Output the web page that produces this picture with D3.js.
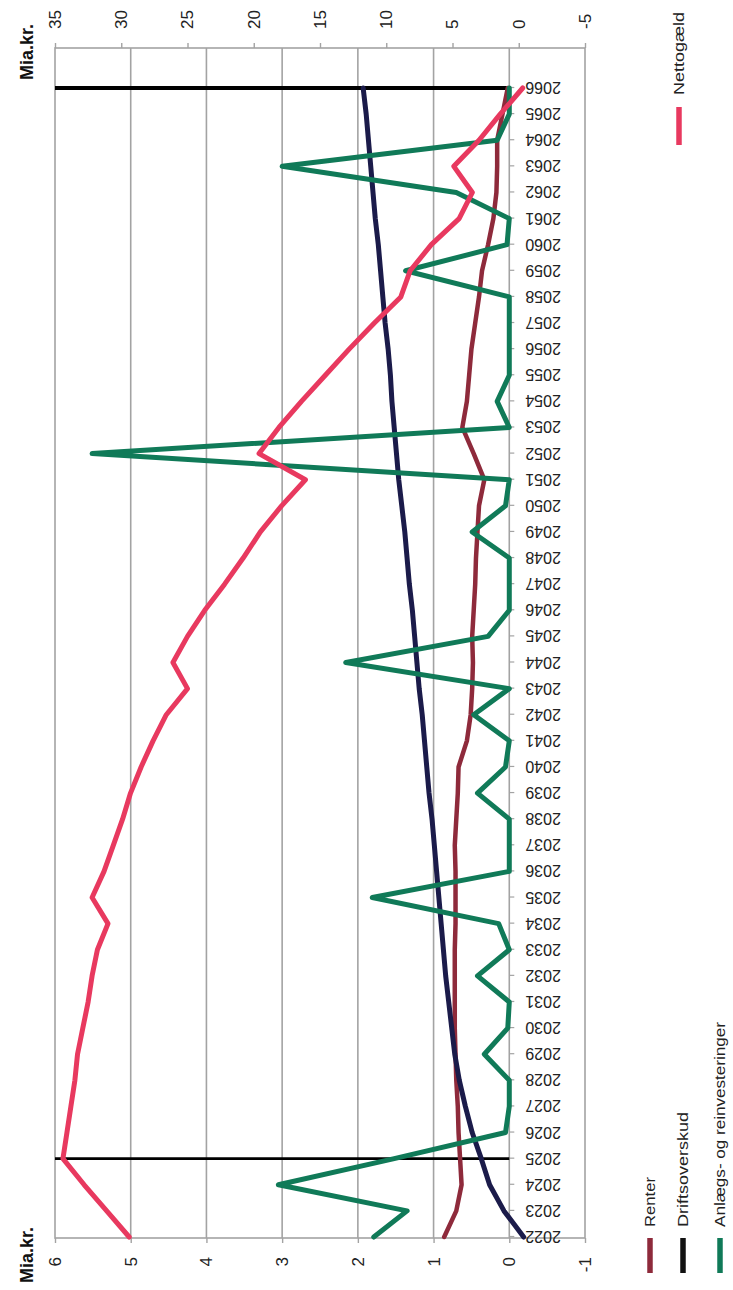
<!DOCTYPE html>
<html><head><meta charset="utf-8">
<script src="https://cdn.jsdelivr.net/npm/d3@7"></script>
<style>html,body{margin:0;padding:0;background:#fff;} svg{display:block;font-family:"Liberation Sans",Arial,sans-serif;}</style>
</head><body><div id="chart"></div>
<script>
const years = [2022,2023,2024,2025,2026,2027,2028,2029,2030,2031,2032,2033,2034,2035,2036,2037,2038,2039,2040,2041,2042,2043,2044,2045,2046,2047,2048,2049,2050,2051,2052,2053,2054,2055,2056,2057,2058,2059,2060,2061,2062,2063,2064,2065,2066];
const renter = [0.86,0.70,0.63,0.65,0.67,0.68,0.70,0.71,0.72,0.72,0.72,0.72,0.71,0.71,0.71,0.72,0.70,0.68,0.67,0.56,0.51,0.49,0.48,0.49,0.47,0.45,0.44,0.42,0.40,0.33,0.47,0.62,0.56,0.53,0.50,0.45,0.40,0.36,0.28,0.21,0.17,0.16,0.16,0.09,0.02];
const driftsoverskud = [-0.19,0.07,0.26,0.37,0.49,0.58,0.66,0.72,0.76,0.80,0.84,0.87,0.90,0.93,0.96,0.99,1.02,1.06,1.09,1.12,1.15,1.19,1.22,1.25,1.28,1.32,1.35,1.38,1.42,1.46,1.49,1.52,1.55,1.57,1.60,1.64,1.67,1.70,1.73,1.77,1.80,1.83,1.86,1.89,1.93];
const anlaeg = [1.79,1.35,3.05,1.52,0.05,0.0,0.0,0.33,0.02,0.0,0.42,0.0,0.14,1.81,0.0,0.0,0.0,0.42,0.05,0.0,0.47,0.0,2.16,0.28,0.0,0.0,0.0,0.49,0.05,0.0,5.51,0.0,0.16,0.0,0.0,0.0,0.0,1.37,0.03,0.0,0.70,3.0,0.16,0.0,0.0];
const nettogaeld = [29.4,31.1,32.8,34.4,34.1,33.8,33.5,33.3,32.9,32.5,32.2,31.8,31.0,32.2,31.3,30.6,29.9,29.3,28.5,27.6,26.6,25.0,26.1,25.0,23.7,22.2,20.8,19.5,17.9,16.1,19.6,18.1,16.4,14.6,12.8,10.9,8.9,8.2,6.6,4.5,3.5,4.9,3.0,1.4,-0.3];
const markerYears = [2025,2066];
const leftTicks = [-1,0,1,2,3,4,5,6];
const rightTicks = [-5,0,5,10,15,20,25,30,35];
const gridTicks = [0,1,2,3,4,5];
const axisTitle = "Mia.kr.";
const legendLeft = [
  {name:"Renter", color:"#8e2a3b", len:50},
  {name:"Driftsoverskud", color:"#111", len:115},
  {name:"Anlægs- og reinvesteringer", color:"#107a58", len:205}
];
const legendRight = {name:"Nettogæld", color:"#e8395f", len:83};

const W=733,H=1290;
const svg = d3.select("#chart").append("svg").attr("width",W).attr("height",H);
// chart drawn in landscape, then rotated -90deg
const g = svg.append("g").attr("transform",`translate(0,${H}) rotate(-90)`);
const P = {left:52,right:1242,top:55,bottom:585};
const x = d3.scaleLinear().domain([2022,2066]).range([53,1202]);
const yL = d3.scaleLinear().domain([-1,6]).range([585,55]);
const yR = d3.scaleLinear().domain([-5,35]).range([585,55]);
const gray = "#a3a3a3";

// gridlines
g.append("g").selectAll("line").data(gridTicks).join("line")
  .attr("x1",P.left).attr("x2",P.right).attr("y1",d=>yL(d)).attr("y2",d=>yL(d))
  .attr("stroke",gray).attr("stroke-width",1.6);
// border
g.append("rect").attr("x",P.left).attr("y",P.top).attr("width",P.right-P.left).attr("height",P.bottom-P.top)
  .attr("fill","none").attr("stroke",gray).attr("stroke-width",1.6);

// left axis
const ax1 = g.append("g").attr("transform",`translate(${P.left},0)`)
  .call(d3.axisLeft(yL).tickValues(leftTicks).tickSize(5).tickPadding(14).tickFormat(d=>String(d)));
// right axis
const ax2 = g.append("g").attr("transform",`translate(${P.right},0)`)
  .call(d3.axisRight(yR).tickValues(rightTicks).tickSize(5).tickPadding(14).tickFormat(d=>String(d)));
[ax1,ax2].forEach(a=>{
  a.select(".domain").remove();
  a.selectAll(".tick line").attr("stroke",gray).attr("stroke-width",1.4);
  a.selectAll(".tick text").attr("font-size",17).attr("fill","#222").attr("font-family","Liberation Sans, Arial, sans-serif");
});

// year axis at 0
const v0 = yL(0);
const ax3 = g.append("g").attr("transform",`translate(0,${v0})`)
  .call(d3.axisBottom(x).tickValues(years).tickSize(5).tickFormat(d=>String(d)));
ax3.select(".domain").remove();
ax3.selectAll(".tick line").attr("stroke",gray).attr("stroke-width",1.2);
ax3.selectAll(".tick text").attr("font-size",16).attr("fill","#222")
  .attr("font-family","Liberation Sans, Arial, sans-serif")
  .attr("text-anchor","end").attr("dy",null).attr("y",0)
  .attr("transform","translate(0,16) rotate(-90)").attr("dominant-baseline","central");

// black marker lines
g.append("g").selectAll("line").data(markerYears).join("line")
  .attr("x1",d=>x(d)).attr("x2",d=>x(d)).attr("y1",yL(6)).attr("y2",yL(0))
  .attr("stroke","#000").attr("stroke-width",(d,i)=>i===0?2.6:4);

// series
const lineL = d3.line().x((d,i)=>x(years[i])).y(d=>yL(d));
const lineR = d3.line().x((d,i)=>x(years[i])).y(d=>yR(d));
const series = [
  {data:renter, f:lineL, color:"#8e2a3b", w:4.5},
  {data:driftsoverskud, f:lineL, color:"#1b1b4a", w:5},
  {data:anlaeg, f:lineL, color:"#107a58", w:5},
  {data:nettogaeld, f:lineR, color:"#e8395f", w:5}
];
g.append("g").selectAll("path").data(series).join("path")
  .attr("d",d=>d.f(d.data)).attr("fill","none")
  .attr("stroke",d=>d.color).attr("stroke-width",d=>d.w)
  .attr("stroke-linejoin","round").attr("stroke-linecap","round");

// axis titles
[7,1210].forEach(u=>{
  g.append("text").attr("x",u).attr("y",33).attr("font-size",18).attr("font-weight","bold")
    .attr("fill","#111").text(axisTitle);
});

// legend
const legV = [650,683,720];
legendLeft.forEach((d,i)=>{
  g.append("line").attr("x1",17).attr("x2",52).attr("y1",legV[i]).attr("y2",legV[i])
    .attr("stroke",d.color).attr("stroke-width",5.5);
  g.append("text").attr("x",63).attr("y",legV[i]+5).attr("font-size",14).attr("fill","#222")
    .attr("textLength",d.len).attr("lengthAdjust","spacingAndGlyphs").text(d.name);
});
g.append("line").attr("x1",1145).attr("x2",1183).attr("y1",679).attr("y2",679)
  .attr("stroke",legendRight.color).attr("stroke-width",5.5);
g.append("text").attr("x",1195).attr("y",684).attr("font-size",14).attr("fill","#222")
  .attr("textLength",legendRight.len).attr("lengthAdjust","spacingAndGlyphs").text(legendRight.name);
</script></body></html>
